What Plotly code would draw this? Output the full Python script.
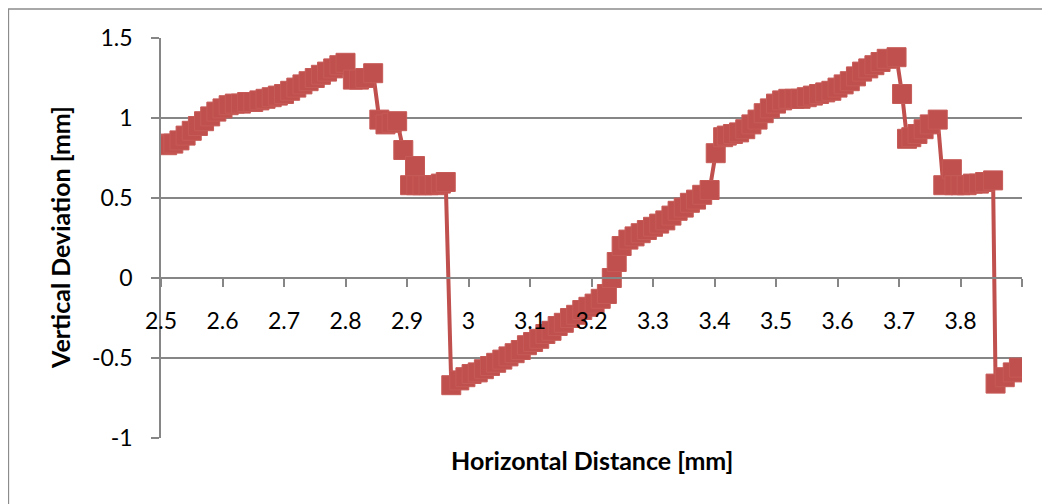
import plotly.graph_objects as go

# Horizontal distance [mm]
x_mm = [
    2.503, 2.51, 2.52, 2.53, 2.54, 2.55, 2.56, 2.57, 2.58, 2.59,
    2.60, 2.61, 2.62, 2.63, 2.64, 2.65, 2.66, 2.67, 2.68, 2.69,
    2.70, 2.71, 2.72, 2.73, 2.74, 2.75, 2.76, 2.77, 2.78, 2.79, 2.80,
    2.812, 2.822, 2.832, 2.845, 2.855, 2.865, 2.875, 2.884, 2.894, 2.913,
    2.905, 2.915, 2.925, 2.935, 2.945, 2.955, 2.963,
    2.972, 2.985, 2.995, 3.005, 3.015, 3.025, 3.035, 3.045, 3.055, 3.065,
    3.075, 3.085, 3.095, 3.105, 3.115, 3.125, 3.135, 3.145, 3.155, 3.165,
    3.175, 3.185, 3.195, 3.205, 3.215, 3.225,
    3.233, 3.241, 3.249, 3.26, 3.27, 3.28, 3.29, 3.30, 3.31, 3.32,
    3.33, 3.34, 3.35, 3.36, 3.37, 3.38, 3.392,
    3.402, 3.414, 3.42, 3.43, 3.44, 3.45, 3.46, 3.47, 3.48, 3.49,
    3.50, 3.51, 3.52, 3.53, 3.54, 3.55, 3.56, 3.57, 3.58, 3.59,
    3.60, 3.61, 3.62, 3.63, 3.64, 3.65, 3.66, 3.67, 3.68, 3.696,
    3.705, 3.713, 3.72, 3.73, 3.74, 3.75, 3.763,
    3.772, 3.786, 3.79, 3.80, 3.81, 3.82, 3.83, 3.84, 3.853,
    3.857, 3.872, 3.885, 3.895,
]

# Vertical deviation [mm]
dev_mm = [
    0.84, 0.83, 0.84, 0.86, 0.89, 0.92, 0.95, 0.98, 1.01, 1.04,
    1.06, 1.08, 1.09, 1.09, 1.10, 1.10, 1.11, 1.12, 1.13, 1.14,
    1.15, 1.17, 1.19, 1.21, 1.23, 1.25, 1.27, 1.29, 1.31, 1.33, 1.345,
    1.24, 1.24, 1.25, 1.28, 0.99, 0.96, 0.97, 0.98, 0.80, 0.70,
    0.58, 0.58, 0.58, 0.58, 0.58, 0.59, 0.60,
    -0.67, -0.64, -0.62, -0.60, -0.59, -0.57, -0.55, -0.53, -0.51, -0.49,
    -0.47, -0.45, -0.42, -0.40, -0.38, -0.35, -0.33, -0.30, -0.28, -0.25,
    -0.23, -0.20, -0.18, -0.16, -0.13, -0.10,
    0.00, 0.10, 0.20, 0.24, 0.26, 0.28, 0.30, 0.32, 0.34, 0.36,
    0.39, 0.42, 0.44, 0.47, 0.49, 0.52, 0.55,
    0.78, 0.88, 0.89, 0.90, 0.91, 0.93, 0.96, 0.99, 1.03, 1.06,
    1.09, 1.11, 1.12, 1.12, 1.12, 1.13, 1.14, 1.15, 1.16, 1.17,
    1.19, 1.21, 1.23, 1.26, 1.29, 1.31, 1.33, 1.35, 1.37, 1.38,
    1.15, 0.87, 0.88, 0.90, 0.93, 0.96, 0.99,
    0.58, 0.68, 0.58, 0.58, 0.58, 0.59, 0.59, 0.60, 0.61,
    -0.66, -0.62, -0.59, -0.56,
]

x_ticks = [2.5, 2.6, 2.7, 2.8, 2.9, 3.0, 3.1, 3.2, 3.3, 3.4, 3.5, 3.6, 3.7, 3.8, 3.9]
x_tick_text = ["2.5", "2.6", "2.7", "2.8", "2.9", "3", "3.1", "3.2", "3.3", "3.4",
               "3.5", "3.6", "3.7", "3.8", ""]
y_ticks = [-1, -0.5, 0, 0.5, 1, 1.5]
y_tick_text = ["-1", "-0.5", "0", "0.5", "1", "1.5"]

RED = "#C0504D"
GRID = "#868686"
FONT = "Lato"

fig = go.Figure()
fig.add_trace(go.Scatter(
    x=x_mm, y=dev_mm, mode="lines+markers",
    line=dict(color=RED, width=4),
    marker=dict(symbol="square", size=19, color=RED,
                line=dict(color="#C65A57", width=1)),
    showlegend=False, hoverinfo="x+y",
))

# page has an 8px body margin; positions below are in figure pixels
W, H = 1050, 504
L, R, T, B = 153, 36, 30, 74
PW, PH = W - L - R, H - T - B

fig.update_layout(
    width=W, height=H,
    margin=dict(l=L, r=R, t=T, b=B),
    paper_bgcolor="white", plot_bgcolor="white",
    font=dict(family=FONT, size=23, color="black"),
    xaxis=dict(
        range=[2.5, 3.9], tickvals=x_ticks, ticktext=x_tick_text,
        showgrid=False, zeroline=False,
        showline=True, linecolor=GRID, linewidth=1.5,
        ticks="outside", ticklen=8, tickcolor=GRID, tickwidth=1.5,
        anchor="free", position=0.4,
        ticklabelstandoff=15,
        tickfont=dict(family=FONT, size=23, color="black"),
    ),
    yaxis=dict(
        range=[-1, 1.5], tickvals=y_ticks, ticktext=y_tick_text,
        showgrid=True, gridcolor=GRID, gridwidth=1.5,
        zeroline=False,
        showline=True, linecolor=GRID, linewidth=1.5,
        ticks="outside", ticklen=8, tickcolor=GRID, tickwidth=1.5,
        ticklabelstandoff=14,
        tickfont=dict(family=FONT, size=23, color="black"),
    ),
    annotations=[
        dict(text="<b>Horizontal Distance [mm]</b>", xref="paper", yref="paper",
             x=0.5, y=-(452 - (H - B)) / PH, xanchor="center", yanchor="middle",
             showarrow=False, font=dict(family=FONT, size=25, color="black")),
        dict(text="<b>Vertical Deviation [mm]</b>", xref="paper", yref="paper",
             x=-(L - 52) / PW, y=0.5, xanchor="center", yanchor="middle",
             textangle=-90, showarrow=False,
             font=dict(family=FONT, size=25, color="black")),
    ],
    shapes=[
        dict(type="rect", xref="paper", yref="paper",
             x0=-(L - 0.5) / PW, x1=(W + 20 - L) / PW,
             y0=-(B + 20) / PH, y1=1 + (T - 1) / PH,
             line=dict(color="#8C8C8C", width=1.3), layer="below"),
    ],
)

fig.write_html("out.html")
